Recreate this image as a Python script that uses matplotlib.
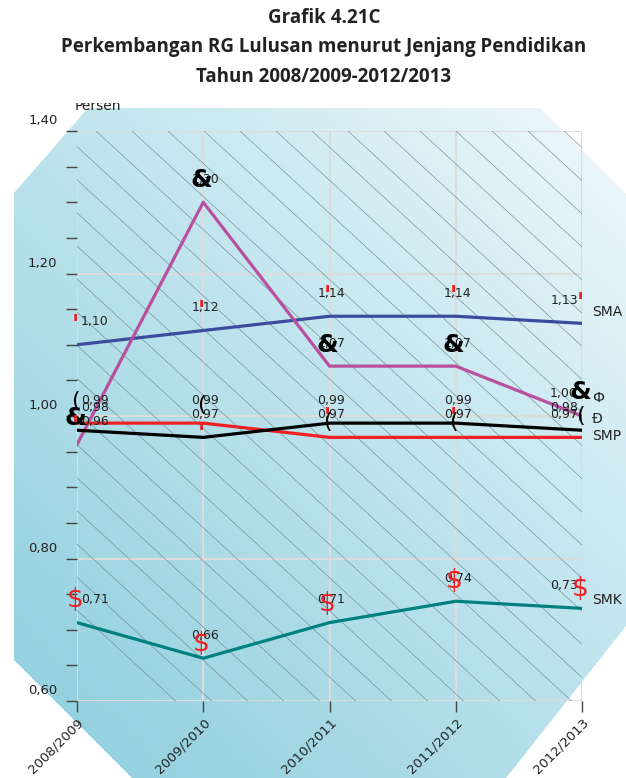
import numpy as np
import matplotlib
matplotlib.use("Agg")
import matplotlib.pyplot as plt
from matplotlib.patches import Polygon, Rectangle
from matplotlib.colors import LinearSegmentedColormap
from matplotlib.transforms import ScaledTranslation

W, H = 626, 778

years = ["2008/2009", "2009/2010", "2010/2011", "2011/2012", "2012/2013"]
sma = [1.10, 1.12, 1.14, 1.14, 1.13]
slb = [0.96, 1.30, 1.07, 1.07, 1.00]
sd = [0.99, 0.99, 0.97, 0.97, 0.97]
smp = [0.98, 0.97, 0.99, 0.99, 0.98]
smk = [0.71, 0.66, 0.71, 0.74, 0.73]
yticks = [0.6, 0.8, 1.0, 1.2, 1.4]

title = "Grafik 4.21C\nPerkembangan RG Lulusan menurut Jenjang Pendidikan\nTahun 2008/2009-2012/2013"

# series: values, colour, broken glyph, glyph colour, glyph size, glyph dy (px), end label, end label dy (px)
series = [
    (sma, "#3b4c9e", "'", "#ee2024", 17, [-27] * 5, "SMA", -11),
    (slb, "#b9509f", "&", "black", 18, [-27, -22, -21, -21, -24], "\u0424", -18),
    (sd, "#ee2024", "'", "#ee2024", 17, [-4, 4, -26, -26, -19], "\u00d0", -18),
    (smp, "black", "(", "black", 16, [-29, -32, -1, -1, -14], "SMP", 6),
    (smk, "#00817f", "$", "#ee2024", 19, [-23, -14, -19, -20, -19], "SMK", -8),
]

fig = plt.figure(figsize=(W / 100, H / 100), dpi=100)

# octagon background with gradient
bg = fig.add_axes([0, 0, 1, 1])
bg.set_xlim(0, W)
bg.set_ylim(H, 0)
bg.axis("off")
gx, gy = np.meshgrid(np.linspace(0, W, 300), np.linspace(0, H, 300))
t = (gx + (H - gy)) / (W + H)
cmap = LinearSegmentedColormap.from_list("bg", [(0, "#95d1df"), (0.5, "#c1e5ee"), (1, "#f4fafc")])
im = bg.imshow(t, cmap=cmap, extent=(0, W, H, 0), vmin=0.1, vmax=0.95, zorder=0)
octa = Polygon([(14, 193), (88, 108), (540, 108), (626, 194), (626, 626),
                (506, 778), (132, 778), (14, 660)], closed=True,
               transform=bg.transData, facecolor="none", edgecolor="none")
bg.add_patch(octa)
im.set_clip_path(octa)

# "Persen" is cut off at the top in the original
bg.text(75, 110, "Persen", ha="left", va="baseline", fontsize=10,
        color="#222222", zorder=3)
bg.add_patch(Rectangle((60, 88), 90, 15, facecolor="white", edgecolor="none", zorder=4))

ax = fig.add_axes([77 / W, 1 - 701 / H, 505 / W, 570 / H])
ax.patch.set_alpha(0)
ax.set_xlim(0, len(years) - 1)
ax.set_ylim(0.6, 1.4)

# diagonal hatch inside the plot area
aw, ah = 505, 570
slope = 0.92
for c in np.arange(379 - 36 * 25, aw + 36, 36):
    yp = np.array([0, ah + 10], dtype=float)
    xp = c + yp / slope
    ax.plot(xp / aw, 1 - yp / ah, transform=ax.transAxes,
            color="#6f8c93", lw=0.45, zorder=1)

ax.grid(True, color="#dcdcdc", lw=1.5, zorder=1.5)
ax.set_axisbelow(True)
for s in ax.spines.values():
    s.set_visible(False)

ax.set_xticks(range(len(years)))
ax.set_xticklabels(years, rotation=45, ha="right", va="top", rotation_mode="anchor",
                   fontsize=9.5, color="#222222")
ax.set_yticks(yticks)
ax.set_yticks(np.arange(0.6, 1.401, 0.05), minor=True)
ax.set_yticklabels([f"{v:.2f}".replace(".", ",") for v in yticks],
                   fontsize=9.5, color="#222222")
ax.tick_params(axis="y", which="both", length=8, width=1, color="#444444", pad=6)
ax.tick_params(axis="x", length=8, width=1, color="#444444", pad=3)
ax.tick_params(axis="y", which="minor", grid_alpha=0)
for lab in ax.get_yticklabels():
    lab.set_transform(lab.get_transform() + ScaledTranslation(0, 12 / 100, fig.dpi_scale_trans))

x = np.arange(len(years))
for vals, col, glyph, gcol, gsize, gdy, name, ndy in series:
    ax.plot(x, vals, color=col, lw=2.3, zorder=3)
    n = len(vals)
    fix = 7 if glyph == "'" else 0
    for i, v in enumerate(vals):
        if i == 0:
            ha, dx = "left", 4
        elif i == n - 1:
            ha, dx = "right", -4
        else:
            ha, dx = "center", 2
        ax.annotate(f"{v:.2f}".replace(".", ","), (i, v), xytext=(dx * 0.72, 23 * 0.72),
                    textcoords="offset points", ha=ha, va="center", fontsize=9,
                    color="#222222", zorder=4, annotation_clip=False)
        ax.annotate(glyph, (i, v), xytext=(-2 * 0.72, -(gdy[i] + fix) * 0.72),
                    textcoords="offset points", ha="center", va="center",
                    fontsize=gsize, color=gcol, zorder=5, annotation_clip=False,
                    fontweight="bold" if glyph in "'&" else "normal")
    ax.annotate(name, (n - 1, vals[-1]), xytext=(10 * 0.72, -ndy * 0.72),
                textcoords="offset points", ha="left", va="center", fontsize=10,
                color="#222222", zorder=5, annotation_clip=False)

fig.text(324 / W, 1 - 8 / H, title, ha="center", va="top", fontsize=13.5,
         fontweight="bold", family="Open Sans", color="#222222", linespacing=1.62)

fig.savefig("out.png", dpi=100)
